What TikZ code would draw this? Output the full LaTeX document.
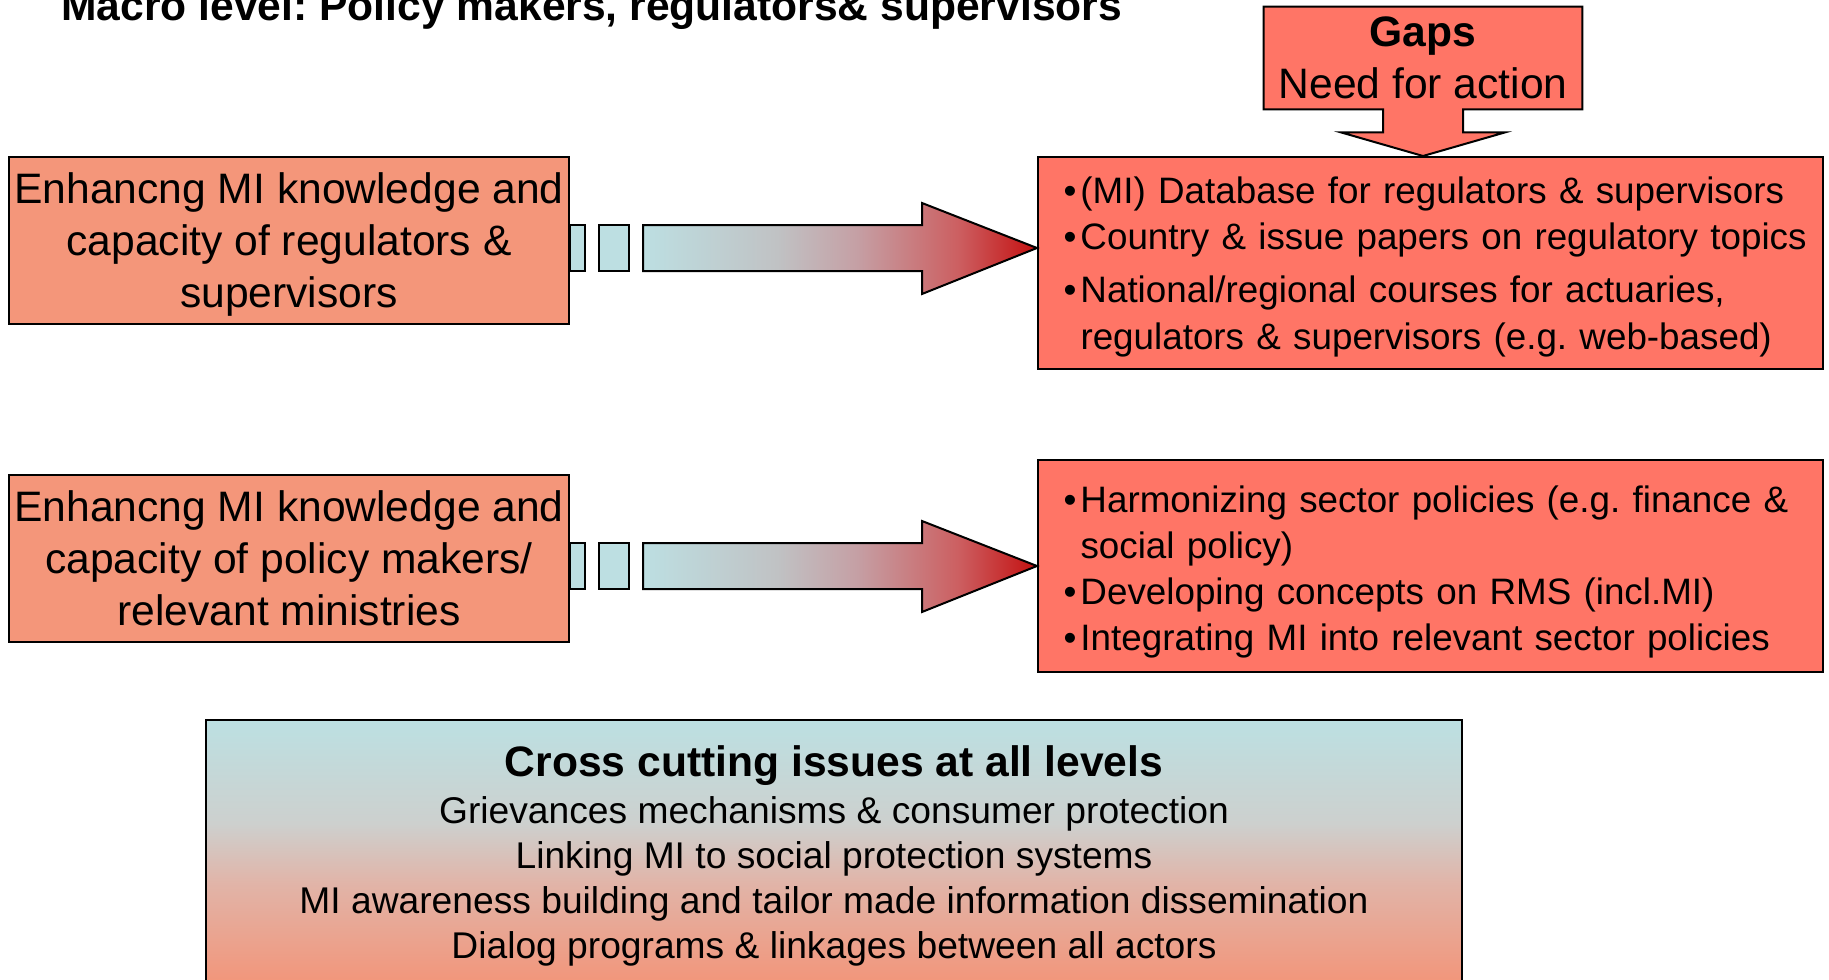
\documentclass[tikz,border=0pt]{standalone}
\usepackage{fontspec}
\setmainfont{Liberation Sans}
\usepackage{tikz}
\usetikzlibrary{calc,backgrounds}

\definecolor{leftfill}{HTML}{F4967A}
\definecolor{gapfill}{HTML}{FF7566}
\definecolor{stubblue}{HTML}{BDDFE2}
\definecolor{tipred}{HTML}{C41010}
\definecolor{midgray}{RGB}{192,194,196}
\definecolor{midpink}{RGB}{197,160,165}
\definecolor{midrose}{RGB}{204,95,97}
\definecolor{crosstop}{RGB}{188,224,226}
\definecolor{crossgray}{RGB}{205,208,206}
\definecolor{crosspink}{RGB}{225,180,168}
\definecolor{crossbot}{RGB}{242,150,123}

\pgfdeclarehorizontalshading{barshade}{100bp}{color(0bp)=(stubblue); color(25bp)=(stubblue); color(42bp)=(midgray); color(52bp)=(midpink); color(65bp)=(midrose); color(75bp)=(tipred); color(100bp)=(tipred)}
\pgfdeclareverticalshading{crossshade}{100bp}{color(0bp)=(crossbot); color(27bp)=(crossbot); color(45bp)=(crosspink); color(56bp)=(crossgray); color(75bp)=(crosstop); color(100bp)=(crosstop)}

\newcommand\itemdot{\hspace*{6.5pt}\makebox[8.5pt][l]{\textbullet}}
\newcommand\itemgap{\hspace*{15pt}}

\begin{document}
\frenchspacing
\begin{tikzpicture}[x=0.5pt,y=-0.5pt,
  bigfont/.style={font=\fontsize{21.3}{26}\selectfont},
  smallfont/.style={font=\fontsize{18.4}{23}\selectfont},
  aimbox/.style={draw,line width=1pt,fill=leftfill,minimum width=280pt,minimum height=83.5pt,inner sep=0pt,align=center,bigfont},
  gapbox/.style={draw,line width=1pt,fill=gapfill,minimum width=392.5pt,minimum height=106pt,inner xsep=6.25pt,inner ysep=0pt,text width=380pt,align=left,smallfont},
  stubbox/.style={draw,line width=1pt,fill=stubblue},
  flowbar/.style={draw,line width=1pt,shading=barshade}]
\useasboundingbox (0,0) rectangle (1829,979);
\clip (0,0) rectangle (1829,979);

\node[anchor=base west,inner sep=0pt,font=\fontsize{21.3}{26}\selectfont\bfseries] (title) at (61,21) {Macro level: Policy makers, regulators\& supervisors};

\node[aimbox] (reg) at (289,240.5) {Enhancng MI knowledge and\\capacity of regulators \&\\\smash{supervisors}};
\node[aimbox] (pol) at (289,558.5) {Enhancng MI knowledge and\\capacity of policy makers/\\relevant ministries};

\node[gapbox] (db) at (1430.5,263) {\rule{0pt}{17.6pt}\itemdot(MI) Database for regulators \& supervisors\\
\itemdot Country \& issue papers on regulatory topics\\[3.5pt]
\itemdot National/regional courses for actuaries,\\[0.7pt]
\itemgap regulators \& supervisors (e.g. web-based)};
\node[gapbox] (sect) at (1430.5,566) {\rule{0pt}{19.6pt}\itemdot Harmonizing sector policies (e.g. finance \&\\
\itemgap social policy)\\
\itemdot Developing concepts on RMS (incl.MI)\\
\itemdot Integrating MI into relevant sector policies};

\node[minimum width=159pt,minimum height=51pt,inner sep=0pt,align=center,bigfont] (gaps) at (1423,58) {\textbf{Gaps}\\Need for action};
\begin{scope}[on background layer]
\fill[white] (0,0) rectangle (1829,979);
\draw[line width=1pt,fill=gapfill] (gaps.north west) -- (gaps.north east) -- (gaps.south east) -- ($(gaps.south)+(40,0)$) -- ($(gaps.south)+(40,23)$) -- ($(gaps.south)+(82,23)$) -- (gaps.south |- db.north) -- ($(gaps.south)+(-82,23)$) -- ($(gaps.south)+(-40,23)$) -- ($(gaps.south)+(-40,0)$) -- (gaps.south west) -- cycle;
\end{scope}

\coordinate (s1) at ($(reg.east)+(0,7.5)$);
\coordinate (t1) at (db.west |- s1);
\draw[stubbox] ($(s1)+(0,-23)$) rectangle ($(s1)+(15,23)$);
\draw[stubbox] ($(s1)+(29,-23)$) rectangle ($(s1)+(59,23)$);
\draw[flowbar] ($(s1)+(73,-23)$) -- ($(s1)+(352,-23)$) -- ($(s1)+(352,-45)$) -- (t1) -- ($(s1)+(352,46)$) -- ($(s1)+(352,23)$) -- ($(s1)+(73,23)$) -- cycle;

\coordinate (s2) at ($(pol.east)+(0,7.5)$);
\coordinate (t2) at (sect.west |- s2);
\draw[stubbox] ($(s2)+(0,-23)$) rectangle ($(s2)+(15,23)$);
\draw[stubbox] ($(s2)+(29,-23)$) rectangle ($(s2)+(59,23)$);
\draw[flowbar] ($(s2)+(73,-23)$) -- ($(s2)+(352,-23)$) -- ($(s2)+(352,-45)$) -- (t2) -- ($(s2)+(352,46)$) -- ($(s2)+(352,23)$) -- ($(s2)+(73,23)$) -- cycle;

\node[draw,line width=1pt,shading=crossshade,minimum width=628pt,minimum height=136pt,inner sep=0pt,align=center,font=\fontsize{18.6}{22.4}\selectfont] (cross) at (834,856) {{\fontsize{21.3}{26}\selectfont\bfseries Cross cutting issues at all levels}\\[1.2pt]
Grievances mechanisms \& consumer protection\\
Linking MI to social protection systems\\
MI awareness building and tailor made information dissemination\\
Dialog programs \& linkages between all actors};
\end{tikzpicture}
\end{document}
